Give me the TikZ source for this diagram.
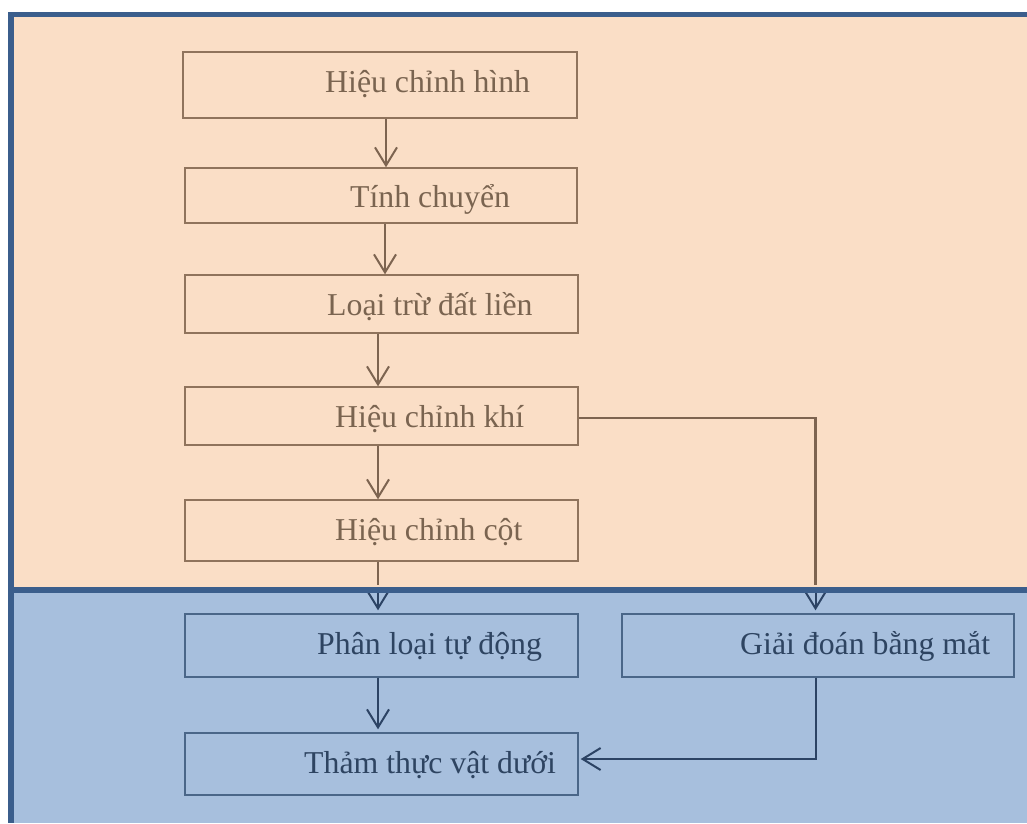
\documentclass[tikz,border=0pt]{standalone}
\usepackage{fontspec}
\setmainfont{Liberation Serif}
\usetikzlibrary{arrows.meta}
\definecolor{peach}{RGB}{250,222,198}
\definecolor{frameblue}{RGB}{59,94,140}
\definecolor{brownline}{RGB}{143,115,92}
\definecolor{browndark}{RGB}{125,100,80}
\definecolor{browntext}{RGB}{122,100,80}
\definecolor{bluefill}{RGB}{167,191,221}
\definecolor{blueline}{RGB}{74,102,136}
\definecolor{bluedark}{RGB}{44,67,100}
\definecolor{bluetext}{RGB}{46,68,97}
\begin{document}
\begin{tikzpicture}[x=1pt,y=-1pt,
  pbox/.style={draw=brownline, line width=1.4pt, inner sep=0pt},
  bbox/.style={draw=blueline, line width=1.4pt, inner sep=0pt},
  ptext/.style={text=browntext, anchor=base west, inner sep=0pt, font=\fontsize{31.8}{38}\selectfont},
  btext/.style={text=bluetext, anchor=base west, inner sep=0pt, font=\fontsize{31.8}{38}\selectfont},
  parr/.style={draw=browndark, line width=2pt, -{Straight Barb[length=18pt,width=22pt,line width=2pt]}},
  barr/.style={draw=bluedark, line width=2pt, -{Straight Barb[length=18pt,width=22pt,line width=2pt]}},
  pline/.style={draw=browndark, line width=2.2pt},
  bline/.style={draw=bluedark, line width=2.2pt}
]
\useasboundingbox (0,0) rectangle (1027,823);
\fill[white] (0,0) rectangle (1027,823);
% regions
\fill[peach] (14,17) rectangle (1027,588);
\fill[bluefill] (14,591) rectangle (1027,823);
% boxes
\node[pbox, minimum width=394pt, minimum height=66pt] (b1) at (380,85) {};
\node[pbox, minimum width=392pt, minimum height=55pt] (b2) at (381,195.5) {};
\node[pbox, minimum width=393pt, minimum height=58pt] (b3) at (381.5,304) {};
\node[pbox, minimum width=393pt, minimum height=58pt] (b4) at (381.5,416) {};
\node[pbox, minimum width=393pt, minimum height=61pt] (b5) at (381.5,530.5) {};
\node[bbox, minimum width=393pt, minimum height=63pt] (b6) at (381.5,645.5) {};
\node[bbox, minimum width=392pt, minimum height=63pt] (b7) at (818,645.5) {};
\node[bbox, minimum width=393pt, minimum height=62pt] (b8) at (381.5,764) {};
% texts
\node[ptext] (t1) at (325,92) {Hiệu chỉnh hình};
\node[ptext] (t2) at (350,207) {Tính chuyển};
\node[ptext] (t3) at (327,315) {Loại trừ đất liền};
\node[ptext] (t4) at (335,427) {Hiệu chỉnh khí};
\node[ptext] (t5) at (335,540) {Hiệu chỉnh cột};
\node[btext] (t6) at (317,654) {Phân loại tự động};
\node[btext] (t7) at (740,654) {Giải đoán bằng mắt};
\node[btext] (t8) at (304,773) {Thảm thực vật dưới};
% connectors in the upper region
\draw[parr] ([xshift=6pt]b1.south) -- ([xshift=5pt]b2.north);
\draw[parr] ([xshift=4pt]b2.south) -- ([xshift=3.5pt]b3.north);
\draw[parr] ([xshift=-3.5pt]b3.south) -- ([xshift=-3.5pt]b4.north);
\draw[parr] ([xshift=-3.5pt]b4.south) -- ([xshift=-3.5pt]b5.north);
\draw[pline] ([xshift=-3.5pt]b5.south) -- ([xshift=-3.5pt,yshift=28pt]b6.north);
\draw[pline] ([yshift=-2pt]b4.east) -| ([xshift=-2.5pt,yshift=28pt]b7.north);
% divider and frame
\draw[frameblue, line width=6pt] (8,590) -- (1027,590);
\draw[frameblue, line width=6pt] (11,12) -- (11,823);
\draw[frameblue, line width=5.5pt] (8,14.5) -- (1027,14.5);
% connectors in the lower region
\begin{scope}
\clip (14,593) rectangle (1027,823);
\draw[barr] ([xshift=-3.5pt,yshift=30pt]b6.north) -- ([xshift=-3.5pt,yshift=3pt]b6.north);
\draw[barr] ([xshift=-2.5pt,yshift=30pt]b7.north) -- ([xshift=-2.5pt,yshift=3pt]b7.north);
\end{scope}
\draw[barr] ([xshift=-3.5pt]b6.south) -- ([xshift=-3.5pt,yshift=3pt]b8.north);
\draw[barr] ([xshift=-2.5pt]b7.south) |- ([yshift=5pt,xshift=2pt]b8.east);
\end{tikzpicture}
\end{document}
